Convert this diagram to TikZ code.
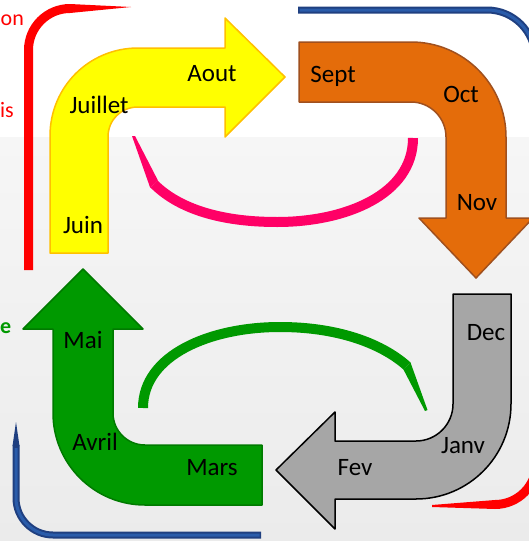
\documentclass[tikz,border=0pt]{standalone}
\usepackage{fontspec}
\setmainfont{Carlito}
\definecolor{gelb}{HTML}{FFFF00}
\definecolor{gelbrand}{HTML}{FFC000}
\definecolor{orange}{HTML}{E46C0A}
\definecolor{orangerand}{HTML}{A0501E}
\definecolor{grau}{HTML}{A6A6A6}
\definecolor{gruen}{HTML}{009900}
\definecolor{gruenrand}{HTML}{007A00}
\definecolor{pink}{HTML}{FF0066}
\definecolor{rot}{HTML}{FF0000}
\definecolor{navy}{HTML}{1F3F80}
\definecolor{blau}{HTML}{2A5CAA}
\definecolor{hgoben}{HTML}{F6F6F6}
\definecolor{hgunten}{HTML}{EBEBEB}

\begin{document}
\begin{tikzpicture}[x=1pt,y=-1pt,
	monat/.style={font=\fontsize{25}{29}\selectfont, anchor=base, inner sep=0pt},
	seite/.style={font=\fontsize{22}{26}\selectfont, anchor=base west, inner sep=0pt},
	pfeil/.style={line width=1.5pt, line join=round}]

\useasboundingbox (0,0) rectangle (529,541);
\clip (0,0) rectangle (529,541);
\fill[white] (0,0) rectangle (529,137);
\shade[top color=hgoben, bottom color=hgunten] (0,137) rectangle (529,541);

% Rahmen
\fill[rot] (24,270) -- (24,50) .. controls (24,24.6) and (44.6,4) .. (70,4)
	-- (131,7) -- (70,13) .. controls (49.6,13) and (33,29.6) .. (33,50)
	-- (33,270) -- cycle;
\fill[rot] (432,505) -- (495,500) .. controls (515.4,500) and (532,483.4) .. (532,463)
	-- (541,463) .. controls (541,488.4) and (520.4,509) .. (495,509)
	-- (432,507) -- cycle;
\draw[navy, line width=7pt] (298,10) -- (487,10)
	.. controls (513.5,10) and (535,31.5) .. (535,58) -- (535,100);
\draw[blau, line width=3pt] (299.5,10) -- (487,10)
	.. controls (513.5,10) and (535,31.5) .. (535,58) -- (535,100);
\fill[navy] (12.5,446) -- (16,422) -- (19.5,446) -- cycle;
\draw[navy, line width=7pt] (16,445) -- (16,498)
	.. controls (16,518.4) and (32.6,535) .. (53,535) -- (261,535);
\draw[blau, line width=3pt] (16,448) -- (16,498)
	.. controls (16,518.4) and (32.6,535) .. (53,535) -- (259.5,535);

% Pfeile
\draw[pfeil, fill=gelb, draw=gelbrand] (50,253) -- (50,136)
	.. controls (50,87) and (89,48) .. (138,48) -- (225,48) -- (225,18)
	-- (285,77) -- (225,137) -- (225,107) -- (138,107)
	.. controls (121,107) and (108,120) .. (108,137) -- (108,253) -- cycle;
\draw[pfeil, fill=orange, draw=orangerand] (299,42) -- (411,42)
	.. controls (463.5,42) and (506,84.5) .. (506,137) -- (506,218)
	-- (533,218) -- (476,278) -- (419,218) -- (446,218) -- (446,137)
	.. controls (446,117.7) and (430.3,102) .. (411,102) -- (299,102) -- cycle;
\draw[pfeil, fill=grau, draw=black] (453,294) -- (511,294) -- (511,404)
	.. controls (511,456.5) and (468.5,499) .. (416,499) -- (335,499)
	-- (335,529) -- (276,470) -- (335,412) -- (335,441) -- (416,441)
	.. controls (436.4,441) and (453,424.4) .. (453,404) -- cycle;
\draw[pfeil, fill=gruen, draw=gruenrand] (262,505) -- (145,505)
	.. controls (94.2,505) and (53,463.8) .. (53,413) -- (53,329)
	-- (23,329) -- (83,269) -- (143,329) -- (113,329) -- (113,413)
	.. controls (113,430.7) and (127.3,445) .. (145,445) -- (262,445) -- cycle;

% Boegen
\draw[pink, line width=10pt] (413,138) .. controls (413,195) and (345,222) .. (277,222)
	.. controls (215,222) and (176,206) .. (154,184);
\fill[pink] (150.2,187.8) -- (132,136) -- (135,136) -- (157.8,180.2) -- cycle;
\draw[gruen, line width=10pt] (143,408) .. controls (143,355) and (210,327) .. (280,327)
	.. controls (335,327) and (380,342) .. (407,366);
\fill[gruen] (403.6,369.8) -- (425,411) -- (427.5,410) -- (410.4,362.2) -- cycle;

\def\monat#1#2#3{
	\node[monat] (#1) at #2 {#3};
}
\monat{juin}{(83,233)}{Juin}
\monat{juillet}{(99,113)}{Juillet}
\monat{aout}{(212,81)}{Aout}
\monat{sept}{(333,82)}{Sept}
\monat{oct}{(461,102)}{Oct}
\monat{nov}{(477,210)}{Nov}
\monat{dec}{(486,340)}{Dec}
\monat{janv}{(463,453)}{Janv}
\monat{fev}{(355,475)}{Fev}
\monat{mars}{(212,475)}{Mars}
\monat{avril}{(95,450)}{Avril}
\monat{mai}{(83,348)}{Mai}

\node[seite, text=rot] (links1) at (0.5,25) {on};
\node[seite, text=rot] (links2) at (0,117) {is};
\node[seite, text=gruen, font=\fontsize{22}{26}\selectfont\bfseries] (links3) at (0,333) {e};

\end{tikzpicture}
\end{document}
